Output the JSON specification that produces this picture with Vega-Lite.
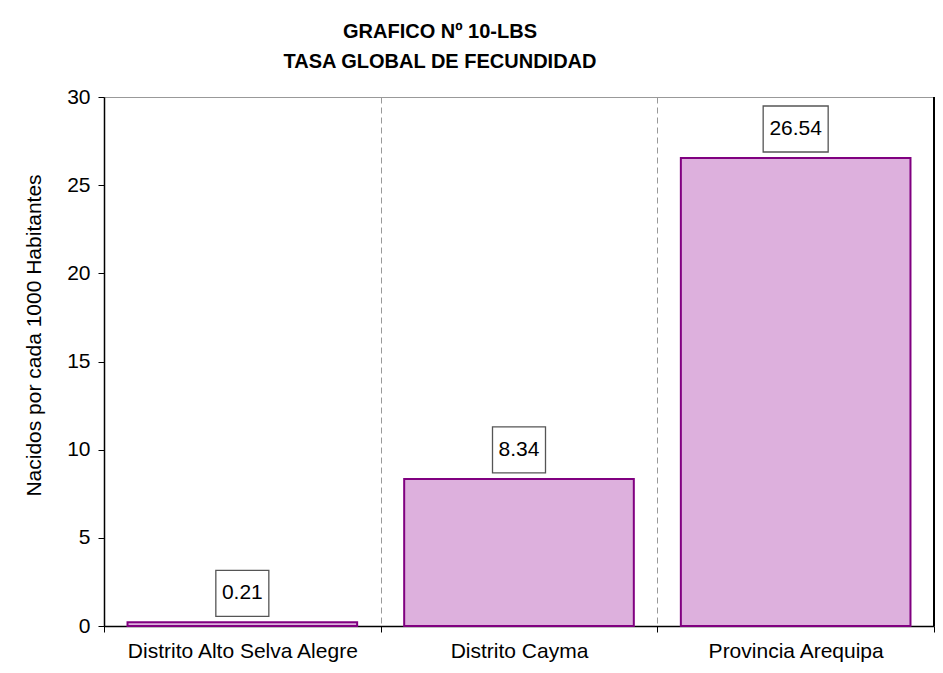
{
  "$schema": "https://vega.github.io/schema/vega-lite/v6.json",
  "width": 830,
  "height": 529,
  "autosize": "none",
  "padding": {"left": 104, "top": 97, "right": 9, "bottom": 47},
  "background": "white",
  "config": {"font": "Liberation Sans", "view": {"stroke": "#999", "strokeWidth": 1}},
  "title": {
    "text": ["GRAFICO Nº 10-LBS", "TASA GLOBAL DE FECUNDIDAD"],
    "fontSize": 20,
    "fontWeight": "bold",
    "font": "Liberation Sans",
    "color": "black",
    "lineHeight": 30,
    "anchor": "middle",
    "dx": -79,
    "offset": 14
  },
  "data": {"values": [
    {"lugar": "Distrito Alto Selva Alegre", "tasa": 0.21},
    {"lugar": "Distrito Cayma", "tasa": 8.34},
    {"lugar": "Provincia Arequipa", "tasa": 26.54}
  ]},
  "encoding": {
    "x": {
      "field": "lugar",
      "type": "nominal",
      "sort": null,
      "scale": {"paddingInner": 0, "paddingOuter": 0},
      "axis": {
        "title": null,
        "labelAngle": 0,
        "labelFontSize": 21,
        "labelColor": "black",
        "labelPadding": 8,
        "labelLimit": 0,
        "tickBand": "extent",
        "ticks": true,
        "tickSize": 6,
        "tickColor": "black",
        "domainColor": "black",
        "domainWidth": 1.5,
        "grid": true,
        "gridColor": "#999",
        "gridDash": [6, 4],
        "gridWidth": 1
      }
    }
  },
  "layer": [
    {
      "mark": {"type": "bar", "fill": "#DDB0DD", "stroke": "#800080", "strokeWidth": 2, "width": {"band": 0.83}},
      "encoding": {
        "y": {
          "field": "tasa",
          "type": "quantitative",
          "scale": {"domain": [0, 30]},
          "axis": {
            "title": "Nacidos por cada 1000 Habitantes",
            "titleFontSize": 21,
            "titleFontWeight": "normal",
            "titleColor": "black",
            "titlePadding": 22,
            "titleY": 238,
            "values": [0, 5, 10, 15, 20, 25, 30],
            "labelFontSize": 21,
            "labelColor": "black",
            "labelPadding": 8,
            "tickSize": 6,
            "tickColor": "black",
            "domainColor": "black",
            "domainWidth": 1.5,
            "grid": false
          }
        }
      }
    },
    {
      "mark": {"type": "rule", "color": "black", "strokeWidth": 2},
      "transform": [{"filter": "datum.lugar == 'Provincia Arequipa'"}],
      "encoding": {
        "x": {"field": "lugar", "type": "nominal", "sort": null, "bandPosition": 1}
      }
    },
    {
      "mark": {"type": "point", "filled": true, "fill": "white", "stroke": "#555", "strokeWidth": 1.3, "opacity": 1, "yOffset": -29},
      "encoding": {
        "y": {"field": "tasa", "type": "quantitative"},
        "size": {"condition": {"test": "datum.tasa >= 10", "value": 4225}, "value": 2809},
        "shape": {"condition": {"test": "datum.tasa >= 10", "value": "M-1,-0.708L1,-0.708L1,0.708L-1,0.708Z"}, "value": "M-1,-0.868L1,-0.868L1,0.868L-1,0.868Z"}
      }
    },
    {
      "mark": {"type": "text", "fontSize": 21, "color": "black", "yOffset": -29, "baseline": "middle"},
      "encoding": {
        "y": {"field": "tasa", "type": "quantitative"},
        "text": {"field": "tasa", "type": "quantitative", "format": ".2f"}
      }
    }
  ]
}
